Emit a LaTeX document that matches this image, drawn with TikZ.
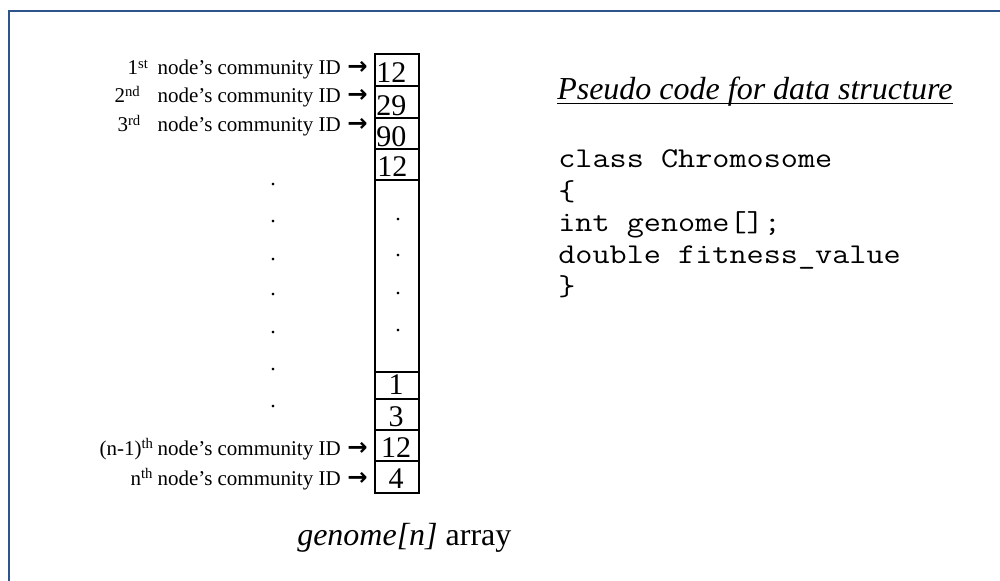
\documentclass[tikz,border=0pt]{standalone}
\usepackage{fontspec}
\setmainfont{Liberation Serif}
\newfontfamily\arrowfont{DejaVu Sans}
\newcommand{\rarr}{\scalebox{1.3}{\arrowfont\bfseries\fontsize{14pt}{14pt}\selectfont →}}
\newcommand{\pre}[2]{\makebox[#1][l]{#2}}
\newcommand{\tail}{node’s community ID\makebox[20.25pt][r]{\rarr}}
\newcommand{\codeline}[1]{\scalebox{1.16}[1]{\ttfamily\fontsize{21.5pt}{24pt}\selectfont #1}}
\definecolor{framecol}{RGB}{45,85,140}
\tikzset{
  cell/.style={draw, line width=1.3pt, anchor=north west, minimum width=33pt, inner sep=0pt},
  num/.style={inner sep=0pt, font=\fontsize{22.5pt}{22.5pt}\selectfont},
  lab/.style={inner sep=0pt, anchor=base east, font=\fontsize{15.75pt}{16pt}\selectfont},
  dotlab/.style={inner sep=0pt, anchor=base, font=\fontsize{16.5pt}{16pt}\selectfont},
  code/.style={inner sep=0pt, anchor=base west},
  big/.style={inner sep=0pt, anchor=base west, font=\fontsize{24pt}{26pt}\selectfont}
}
\begin{document}
\begin{tikzpicture}[x=0.75pt, y=-0.75pt]
\useasboundingbox (0,0) rectangle (1000,581);
% frame
\draw[framecol, line width=2pt] (9,581) -- (9,11) -- (1000,11);
% array cells
\node[cell, minimum height=24pt]    (c1) at (374,53)  {};
\node[cell, minimum height=24pt]    (c2) at (374,85)  {};
\node[cell, minimum height=23.25pt] (c3) at (374,117) {};
\node[cell, minimum height=23.25pt] (c4) at (374,148) {};
\node[cell, minimum height=144pt]   (c5) at (374,179) {};
\node[cell, minimum height=20.25pt] (c6) at (374,371) {};
\node[cell, minimum height=23.25pt] (c7) at (374,398) {};
\node[cell, minimum height=23.25pt] (c8) at (374,429) {};
\node[cell, minimum height=24pt]    (c9) at (374,460) {};
% numbers
\node[num, anchor=base west] (n1) at (376,83)  {12};
\node[num, anchor=base west] (n2) at (376,116) {29};
\node[num, anchor=base west] (n3) at (376,147) {90};
\node[num, anchor=base west] (n4) at (377,177) {12};
\node[num, anchor=base] (n6) at (396,394) {1};
\node[num, anchor=base] (n7) at (396,426) {3};
\node[num, anchor=base] (n8) at (396,457) {12};
\node[num, anchor=base] (n9) at (396,488) {4};
% inner dots
\node[dotlab] (d1) at (398,220) {.};
\node[dotlab] (d2) at (398,257) {.};
\node[dotlab] (d3) at (398,294) {.};
\node[dotlab] (d4) at (398,331) {.};
% labels
\node[lab] (l1) at (368,75)  {\pre{22.5pt}{1\textsuperscript{st}}\tail};
\node[lab] (l2) at (368,103) {\pre{32.25pt}{2\textsuperscript{nd}}\tail};
\node[lab] (l3) at (368,132) {\pre{30pt}{3\textsuperscript{rd}}\tail};
\node[lab] (l8) at (368,455) {\pre{43.5pt}{(n-1)\textsuperscript{th}}\tail};
\node[lab] (l9) at (368,485) {\pre{20.25pt}{n\textsuperscript{th}}\tail};
% left dots
\node[dotlab] (e1) at (273,186) {.};
\node[dotlab] (e2) at (273,223) {.};
\node[dotlab] (e3) at (273,260) {.};
\node[dotlab] (e4) at (273,296) {.};
\node[dotlab] (e5) at (273,333) {.};
\node[dotlab] (e6) at (273,370) {.};
\node[dotlab] (e7) at (273,407) {.};
% heading
\node[big, font=\itshape\fontsize{24pt}{26pt}\selectfont] (head) at (557,100) {Pseudo code for data structure};
\draw[line width=1.2pt] ([yshift=-2.5pt]head.base west) -- ([yshift=-2.5pt]head.base east);
% code
\node[code] (k1) at (558,168) {\codeline{class Chromosome}};
\node[code] (k2) at (558,200) {\codeline{\{}};
\node[code] (k3) at (558,232) {\codeline{int genome[];}};
\node[code] (k4) at (558,263) {\codeline{double fitness\_value}};
\node[code] (k5) at (558,295) {\codeline{\}}};
% caption
\node[big] (cap) at (297,545) {\textit{genome[n]} array};
\end{tikzpicture}
\end{document}
